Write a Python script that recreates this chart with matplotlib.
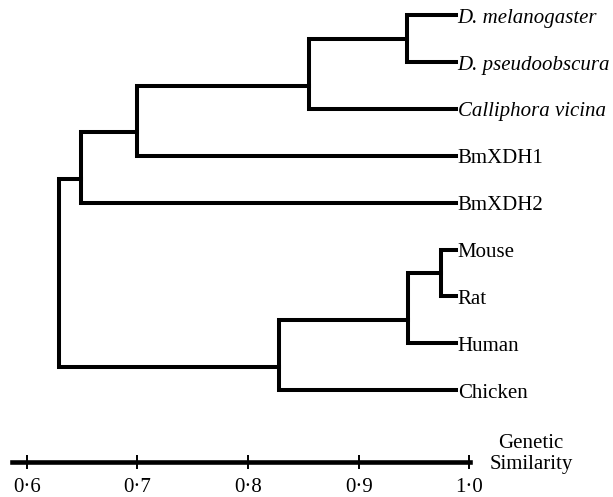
import matplotlib
matplotlib.use("Agg")
import matplotlib.pyplot as plt

# ---- data ----
leaves = ["D. melanogaster", "D. pseudoobscura", "Calliphora vicina", "BmXDH1",
          "BmXDH2", "Mouse", "Rat", "Human", "Chicken"]
leaf_italic = [True, True, True, False, False, False, False, False, False]
node_names = ["Dros", "Insect", "InsBm1", "InsBm", "MR", "MRH", "Vert", "Root"]
node_left = ["D. melanogaster", "Dros", "Insect", "InsBm1", "Mouse", "MR", "MRH", "InsBm"]
node_right = ["D. pseudoobscura", "Calliphora vicina", "BmXDH1", "BmXDH2", "Rat",
              "Human", "Chicken", "Vert"]
node_similarity = [0.944, 0.855, 0.700, 0.649, 0.974, 0.945, 0.828, 0.629]
leaf_tip = 0.988
scale_ticks = [0.6, 0.7, 0.8, 0.9, 1.0]
scale_labels = ["0\u00b76", "0\u00b77", "0\u00b78", "0\u00b79", "1\u00b70"]
axis_title = "Genetic\nSimilarity"

W, H = 613, 497
plt.rcParams['font.family'] = ['Liberation Serif', 'DejaVu Serif']
fig = plt.figure(figsize=(W / 100, H / 100), dpi=100)

# pixel calibration: 0.6 -> 26.7px, 1.0 -> 469.3px ; leaf i -> 15.3 + 46.84 i
px_per = (469.3 - 26.7) / 0.4
x0 = 0.6 - 26.7 / px_per
x1 = 0.6 + (W - 26.7) / px_per
sp = 46.84
y_top = -15.3 / sp
y_bot = (H - 15.3) / sp

ax = fig.add_axes([0, 0, 1, 1])
ax.set_xlim(x0, x1)
ax.set_ylim(y_bot, y_top)
ax.axis("off")

pos = {}
for i, name in enumerate(leaves):
    pos[name] = (leaf_tip, float(i), True)

lw = 2.9
for name, l, r, s in zip(node_names, node_left, node_right, node_similarity):
    xl, yl, leafl = pos[l]
    xr, yr, leafr = pos[r]
    if leafl and leafr:
        y = (yl + yr) / 2
    else:
        y = yl + (yr - yl) * 2 / 3
    ax.plot([xl, s, s, xr], [yl, yl, yr, yr], color="black", lw=lw,
            solid_joinstyle="miter", solid_capstyle="projecting")
    pos[name] = (s, y, False)

for i, (name, it) in enumerate(zip(leaves, leaf_italic)):
    ax.text(leaf_tip + 0.0015, i + 0.16, name, fontsize=15,
            fontstyle="italic" if it else "normal", ha="left", va="baseline")

# scale bar axis
left_px, right_px, axis_y = 12, 470, 462.3
sax = fig.add_axes([left_px / W, (H - axis_y) / H, (right_px - left_px) / W, 0.001])
sax.set_xlim(0.6 - (26.7 - left_px) / px_per, 0.6 + (right_px - 26.7) / px_per)
sax.set_yticks([])
for k in ("top", "left", "right"):
    sax.spines[k].set_visible(False)
sax.spines["bottom"].set_linewidth(3.3)
sax.set_xticks(scale_ticks)
sax.set_xticklabels(scale_labels, fontsize=15)
sax.tick_params(axis="x", direction="inout", length=10, width=1.4, pad=6)
sax.patch.set_visible(False)

fig.text(531 / W, (H - 454) / H, axis_title, fontsize=15, ha="center", va="center",
         multialignment="center", linespacing=1.1)

fig.savefig("out.png", dpi=100)
